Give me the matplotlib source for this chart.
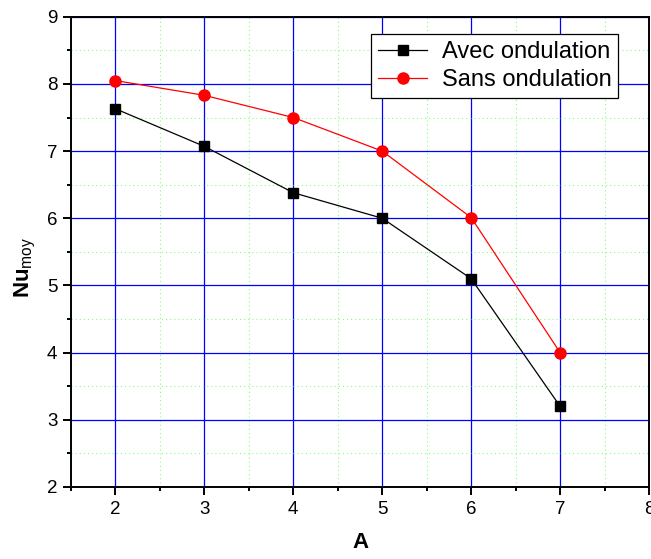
import matplotlib
matplotlib.use('Agg')
import matplotlib.pyplot as plt
from matplotlib.ticker import MultipleLocator

# data
A = [2, 3, 4, 5, 6, 7]
nu_avec = [7.63, 7.07, 6.38, 6.0, 5.1, 3.2]
nu_sans = [8.05, 7.83, 7.5, 7.0, 6.01, 4.0]
labels = ['Avec ondulation', 'Sans ondulation']

plt.rcParams['font.family'] = ['Liberation Sans', 'DejaVu Sans']
plt.rcParams['mathtext.fontset'] = 'custom'
plt.rcParams['mathtext.rm'] = 'Liberation Sans'
plt.rcParams['mathtext.bf'] = 'Liberation Sans:bold'

fig = plt.figure(figsize=(6.51, 5.59), dpi=100)
ax = fig.add_axes([0.109, 0.129, 0.888, 0.841])

ax.plot(A, nu_avec, color='black', lw=0.9, marker='s', ms=7,
        label=labels[0], zorder=3)
ax.plot(A, nu_sans, color='red', lw=0.9, marker='o', ms=8,
        label=labels[1], zorder=3)

ax.set_xlim(1.5, 8)
ax.set_ylim(2, 9)
ax.xaxis.set_major_locator(MultipleLocator(1))
ax.xaxis.set_minor_locator(MultipleLocator(0.5))
ax.yaxis.set_major_locator(MultipleLocator(1))
ax.yaxis.set_minor_locator(MultipleLocator(0.5))

ax.grid(which='major', color='#0000ff', lw=0.9, ls='-', zorder=1)
ax.grid(which='minor', color='#80ff80', lw=0.8, ls=(0, (1, 2.7)), zorder=1)
ax.set_axisbelow(True)

ax.tick_params(which='both', direction='out', width=1.4, top=False, right=False,
               labelsize=13.5, pad=4)
ax.tick_params(which='major', length=5.8)
ax.tick_params(which='minor', length=3)
for s in ax.spines.values():
    s.set_linewidth(1.4)

ax.set_xlabel('A', fontsize=16, fontweight='bold')
ax.xaxis.set_label_coords(0.5, -0.096)
ax.set_ylabel(r'$\mathbf{Nu}_{\mathrm{moy}}$', fontsize=16)
ax.yaxis.set_label_coords(-0.057, 0.466)

leg = ax.legend(loc='upper right', bbox_to_anchor=(0.947, 0.963), fontsize=17,
                fancybox=False, framealpha=1, edgecolor='black',
                borderpad=0.3, handlelength=2.1, handletextpad=0.6,
                labelspacing=0.25, borderaxespad=0)
leg.get_frame().set_linewidth(0.9)

fig.savefig('out.png', dpi=100)
